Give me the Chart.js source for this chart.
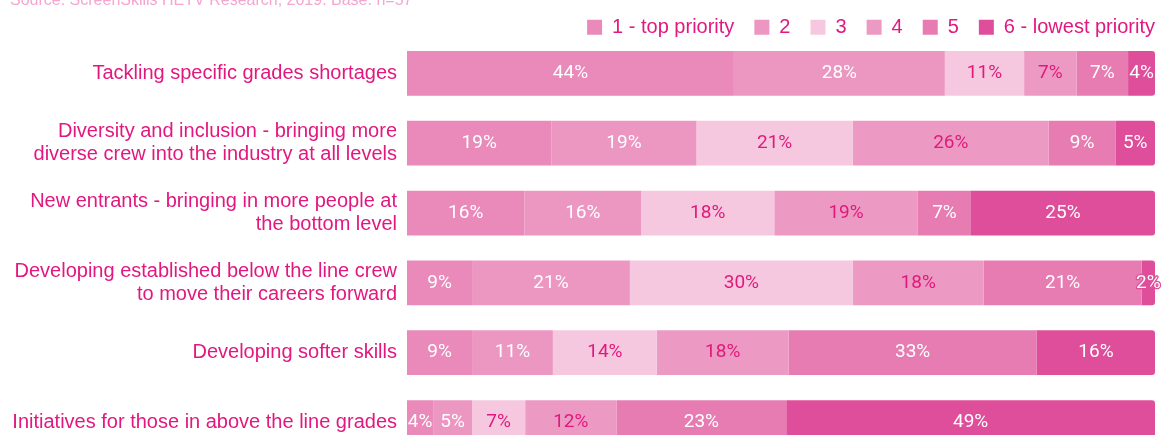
<!DOCTYPE html>
<html>
<head>
<meta charset="utf-8">
<script src="https://cdn.jsdelivr.net/npm/chart.js@4/dist/chart.umd.min.js"></script>
<style>
  html, body { margin: 0; padding: 0; background: #ffffff; overflow: hidden; }
  #wrap { position: absolute; left: 0; top: -42px; width: 1162px; height: 521px; }
</style>
</head>
<body>
<div id="wrap"><canvas id="c"></canvas></div>
<script>
const categories = [
  "Tackling specific grades shortages",
  ["Diversity and inclusion - bringing more", "diverse crew into the industry at all levels"],
  ["New entrants - bringing in more people at", "the bottom level"],
  ["Developing established below the line crew", "to move their careers forward"],
  "Developing softer skills",
  "Initiatives for those in above the line grades"
];
const seriesNames = ["1 - top priority", "2", "3", "4", "5", "6 - lowest priority"];
const priority1 = [43.7, 19.3, 15.7, 8.7, 8.7, 3.5];
const priority2 = [28.2, 19.4, 15.6, 21.1, 10.8, 5.2];
const priority3 = [10.6, 20.9, 17.8, 29.8, 13.9, 7.1];
const priority4 = [7.0, 26.2, 19.2, 17.5, 17.6, 12.2];
const priority5 = [6.9, 8.9, 7.1, 21.1, 33.2, 22.7];
const priority6 = [3.6, 5.3, 24.6, 1.8, 15.8, 49.3];
const sourceText = "Source: ScreenSkills HETV Research, 2019. Base: n=57";

const seriesValues = [priority1, priority2, priority3, priority4, priority5, priority6];
const colors = ["#e98aba", "#ec96c2", "#f5c8e0", "#ec9ac4", "#e67cb2", "#df4e9a"];
const labelColors = ["#ffffff", "#ffffff", "#e0197b", "#e0197b", "#ffffff", "#ffffff"];
const pinkText = "#e2177f";

const dataLabels = {
  id: "dataLabels",
  afterDatasetsDraw(chart) {
    const ctx = chart.ctx;
    ctx.save();
    ctx.font = "19px Roboto";
    ctx.textAlign = "center";
    ctx.textBaseline = "middle";
    chart.data.datasets.forEach((ds, di) => {
      const meta = chart.getDatasetMeta(di);
      meta.data.forEach((el, i) => {
        const v = ds.data[i];
        const txt = Math.round(v) + "%";
        const cx = (el.x + el.base) / 2;
        const cy = el.y;
        if (labelColors[di] === "#ffffff") {
          ctx.lineWidth = 2.5;
          ctx.lineJoin = "round";
          ctx.strokeStyle = colors[di];
          ctx.strokeText(txt, cx, cy);
        }
        ctx.fillStyle = labelColors[di];
        ctx.fillText(txt, cx, cy);
      });
    });
    ctx.restore();
  }
};

// place title and legend boxes relative to the chart area
const placeBoxes = {
  id: "placeBoxes",
  beforeDraw(chart) {
    const top = chart.chartArea.top;
    const lg = chart.legend;
    if (lg) {
      const h = lg.height;
      lg.top = top - 41.1;
      lg.bottom = lg.top + h;
      lg.right = chart.width - 7 + 20;
    }
    const tb = chart.titleBlock;
    if (tb) {
      const h = tb.height;
      tb.top = top - 57;
      tb.bottom = tb.top + h;
      tb.left = 10;
    }
  }
};

new Chart(document.getElementById("c"), {
  type: "bar",
  data: {
    labels: categories,
    datasets: seriesValues.map((vals, i) => ({
      label: seriesNames[i],
      data: vals,
      backgroundColor: colors[i],
      borderWidth: 0,
      borderRadius: 3,
      barPercentage: 0.64,
      categoryPercentage: 1
    }))
  },
  options: {
    indexAxis: "y",
    responsive: true,
    maintainAspectRatio: false,
    animation: false,
    events: [],
    layout: { padding: { left: 0, right: 7, top: 0, bottom: 8 } },
    scales: {
      x: { stacked: true, min: 0, max: 100, display: false },
      y: {
        stacked: true,
        grid: { display: false, drawTicks: false },
        border: { display: false },
        ticks: {
          color: pinkText,
          padding: 10,
          font: { family: "Liberation Sans", size: 20, lineHeight: 1.15 }
        },
        afterFit(scale) { scale.width = 407; }
      }
    },
    plugins: {
      title: {
        display: true,
        text: sourceText,
        align: "start",
        color: "#f5a5cf",
        font: { family: "Liberation Sans", size: 16, weight: "normal" },
        padding: { top: 10, bottom: 1.2 }
      },
      legend: {
        position: "top",
        align: "end",
        labels: {
          boxWidth: 15,
          boxHeight: 15,
          padding: 20,
          color: pinkText,
          font: { family: "Liberation Sans", size: 20 }
        }
      },
      tooltip: { enabled: false }
    }
  },
  plugins: [dataLabels, placeBoxes]
});
</script>
</body>
</html>
